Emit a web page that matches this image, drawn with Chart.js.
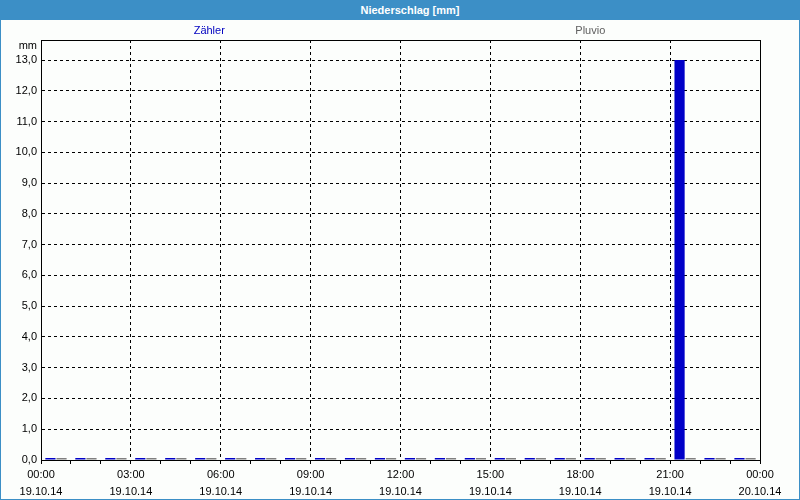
<!DOCTYPE html>
<html><head><meta charset="utf-8">
<script src="https://cdn.jsdelivr.net/npm/chart.js@4"></script>
<style>
html,body{margin:0;padding:0;background:#fcfefc;}
#wrap{position:relative;width:800px;height:500px;overflow:hidden;background:#fcfefc;}
#frame{position:absolute;left:0;top:0;width:800px;height:500px;box-sizing:border-box;border:1px solid #3c8fc6;border-top:none;pointer-events:none;}
#title{position:absolute;left:0;top:0;width:800px;height:20px;background:#3c8fc6;color:#fff;font:bold 11px "Liberation Sans",Arial,sans-serif;line-height:20px;text-align:center;box-sizing:border-box;padding-left:20px;}
#cv{position:absolute;left:0;top:20px;}
</style></head>
<body><div id="wrap">
<div id="title">Niederschlag [mm]</div>
<canvas id="cv" width="800" height="480"></canvas>
<div id="frame"></div>
</div>
<script>
const hours = [0,1,2,3,4,5,6,7,8,9,10,11,12,13,14,15,16,17,18,19,20,21,22,23];
const zaehler = [0,0,0,0,0,0,0,0,0,0,0,0,0,0,0,0,0,0,0,0,0,13.0,0,0];
const pluvio  = [0,0,0,0,0,0,0,0,0,0,0,0,0,0,0,0,0,0,0,0,0,0,0,0];
const seriesNames = ["Zähler","Pluvio"];
const xTickHours = [0,3,6,9,12,15,18,21,24];
const xTickTimes = ["00:00","03:00","06:00","09:00","12:00","15:00","18:00","21:00","00:00"];
const xTickDates = ["19.10.14","19.10.14","19.10.14","19.10.14","19.10.14","19.10.14","19.10.14","19.10.14","20.10.14"];
const yUnit = "mm";

const FONT = {family:'"Liberation Sans", Arial, sans-serif', size:11};

const overlay = {
  id:'overlay',
  afterDraw(chart){
    const {ctx, chartArea:a} = chart;
    ctx.save();
    ctx.strokeStyle='#000'; ctx.lineWidth=1; ctx.setLineDash([]);
    ctx.strokeRect(Math.round(a.left)+0.5, Math.round(a.top)+0.5, Math.round(a.right-a.left), Math.round(a.bottom-a.top));
    ctx.font = '11px "Liberation Sans", Arial, sans-serif';
    ctx.textBaseline='middle';
    ctx.textAlign='right'; ctx.fillStyle='#000';
    ctx.fillText(yUnit, a.left-4, a.top+6);
    ctx.textAlign='center';
    ctx.fillStyle='#0000c0';
    ctx.fillText(seriesNames[0], a.left+(a.right-a.left)*0.234, a.top-9);
    ctx.fillStyle='#606060';
    ctx.fillText(seriesNames[1], a.left+(a.right-a.left)*0.764, a.top-9);
    ctx.restore();
  }
};

new Chart(document.getElementById('cv'), {
  type:'bar',
  data:{
    datasets:[
      {label:seriesNames[0], data:hours.map((h,i)=>({x:h+0.5,y:zaehler[i]})), backgroundColor:'#0000c8', minBarLength:2},
      {label:seriesNames[1], data:hours.map((h,i)=>({x:h+0.5,y:pluvio[i]})), backgroundColor:'#808080', minBarLength:2}
    ]
  },
  options:{
    responsive:false, animation:false,
    layout:{padding:{left:0,right:40,top:20,bottom:0}},
    categoryPercentage:0.74, barPercentage:0.92,
    plugins:{legend:{display:false}, title:{display:false}, tooltip:{enabled:false}},
    scales:{
      x:{type:'linear', min:0, max:24, offset:false,
        afterBuildTicks(s){ s.ticks = hours.concat([24]).map(v=>({value:v})); },
        afterFit(s){ s.height = 40; },
        grid:{offset:false, drawOnChartArea:true, tickLength:4, tickBorderDash:[],
          color:c=>{const v=c.tick&&c.tick.value; return (xTickHours.includes(v)&&v!==0&&v!==24)?'#000':'rgba(0,0,0,0)';},
          tickColor:'#000', lineWidth:1},
        border:{display:true,color:'#000',dash:[3,3]},
        ticks:{autoSkip:false, maxRotation:0, color:'#000', font:Object.assign({lineHeight:1.5},FONT), padding:3,
          callback:(v)=>{const i=xTickHours.indexOf(v); return i>=0?[xTickTimes[i],xTickDates[i]]:'';}}
      },
      y:{min:0, max:13.65,
        afterBuildTicks(s){ const t=[]; for(let v=0; v<=13; v++) t.push({value:v}); s.ticks=t; },
        afterFit(s){ s.width = 41; },
        grid:{drawTicks:false, color:c=>(c.tick&&c.tick.value>0)?'#000':'rgba(0,0,0,0)', lineWidth:1},
        border:{display:true,color:'#000',dash:[3,3]},
        ticks:{color:'#000', font:FONT, padding:4,
          callback:v=>v.toFixed(1).replace('.',',')}
      }
    }
  },
  plugins:[overlay]
});
</script></body></html>
